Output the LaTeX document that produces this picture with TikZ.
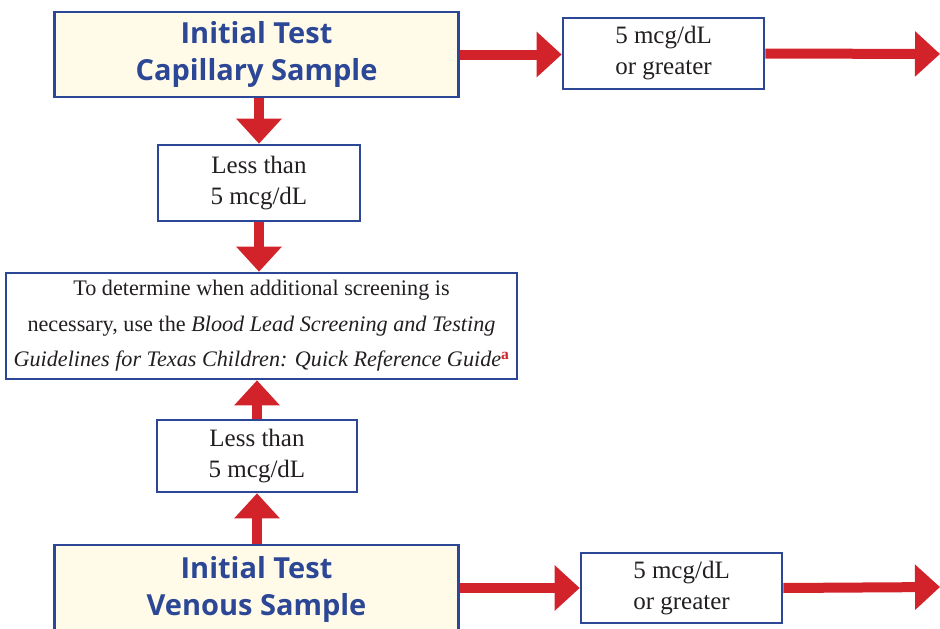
\documentclass[tikz,border=0pt]{standalone}
\usepackage{fontspec}
\setmainfont{Liberation Serif}
\newfontfamily\headfont{Open Sans}
\usetikzlibrary{arrows.meta}
\definecolor{boxblue}{HTML}{2B4796}
\definecolor{cream}{HTML}{FFFBE8}
\definecolor{arrred}{HTML}{D3232A}
\definecolor{textgray}{HTML}{231F20}
\tikzset{
  headbox/.style={draw=boxblue, line width=2.6pt, fill=cream, align=center, inner sep=0pt,
    font=\headfont\bfseries\fontsize{29}{37}\selectfont, text=boxblue},
  valbox/.style={draw=boxblue, line width=2.6pt, fill=white, align=center, inner sep=0pt,
    font=\fontsize{25}{31}\selectfont, text=textgray},
  bigarrow/.style={draw=arrred, line width=10pt, -{Triangle[width=44pt,length=25pt]}}
}
\begin{document}
\begin{tikzpicture}[x=1pt,y=-1pt]
\useasboundingbox (0,0) rectangle (940,629);
\clip (0,0) rectangle (940,629);
\node[headbox, minimum width=404pt, minimum height=85pt] (top) at (256.5,54.5) {Initial Test\\Capillary Sample};
\node[valbox, minimum width=201pt, minimum height=71pt] (tr) at (663.5,53.5) {5 mcg/dL\\or greater};
\node[valbox, minimum width=202pt, minimum height=76pt] (less1) at (259,183) {Less than\\5 mcg/dL};
\node[valbox, minimum width=511pt, minimum height=106pt, font=\fontsize{22.2}{35.5}\selectfont] (mid) at (261.5,326)
  {To determine when additional screening is\\necessary, use the \textit{Blood Lead Screening and Testing}\\\textit{Guidelines for Texas Children: Quick Reference Guide}\textsuperscript{\textcolor{arrred}{\textbf{a}}}};
\node[valbox, minimum width=200pt, minimum height=72pt] (less2) at (257,456) {Less than\\5 mcg/dL};
\node[headbox, minimum width=404pt, minimum height=110pt] (bot) at (256.5,600) {};
\node[font=\headfont\bfseries\fontsize{29}{37}\selectfont, text=boxblue, align=center, inner sep=0pt] (bottxt) at (256.5,589) {Initial Test\\Venous Sample};
\node[valbox, minimum width=201pt, minimum height=70pt] (br) at (681.5,588) {5 mcg/dL\\or greater};
\coordinate (e1) at (940,54);
\coordinate (e2) at (940,587);
\draw[bigarrow] (top.east) -- (top.east -| tr.west);
\draw[bigarrow] (tr.east) -- (e1);
\draw[bigarrow] (less1.north |- top.south) -- (less1.north);
\draw[bigarrow] (less1.south) -- (less1.south |- mid.north);
\draw[bigarrow] (less2.south |- bot.north) -- (less2.south);
\draw[bigarrow] (less2.north) -- (less2.north |- mid.south);
\draw[bigarrow] (bot.east |- br.west) -- (br.west);
\draw[bigarrow] (br.east) -- (e2);
\end{tikzpicture}
\end{document}
